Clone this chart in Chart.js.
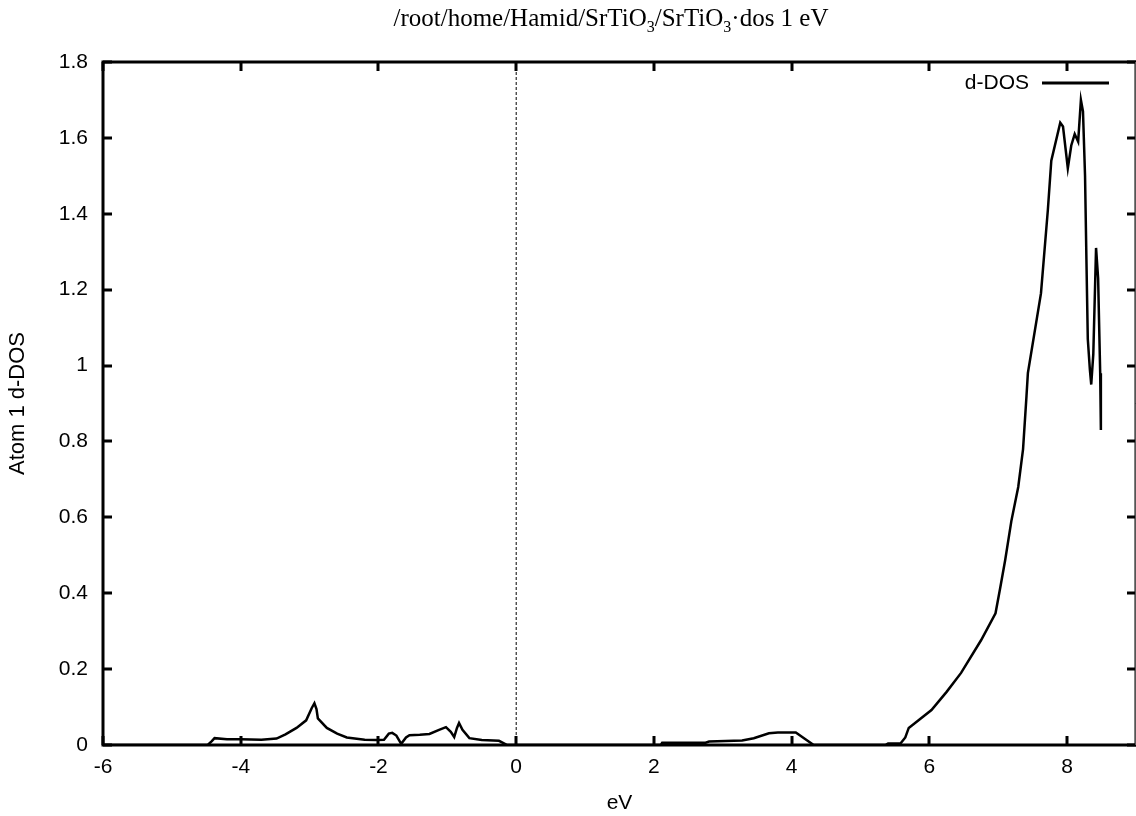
<!DOCTYPE html>
<html>
<head>
<meta charset="utf-8">
<script src="https://cdn.jsdelivr.net/npm/chart.js@4/dist/chart.umd.min.js"></script>
<style>
  html, body { margin:0; padding:0; background:#fff; }
  #wrap { position:relative; width:1136px; height:816px; overflow:hidden; }
  #title { position:absolute; left:0; top:4px; width:1222px; text-align:center;
           font-family:"Liberation Serif","DejaVu Serif",serif; font-size:25px; color:#000; }
  #title sub { font-size:16px; vertical-align:-6px; line-height:0; }
</style>
</head>
<body>
<div id="wrap">
  <div id="title">/root/home/Hamid/SrTiO<sub>3</sub>/SrTiO<sub>3</sub>·dos 1 eV</div>
  <canvas id="c" width="1136" height="816"></canvas>
</div>
<script>
(function(){
  // energies (eV) and d-DOS values
  const energy = [
    -6, -4.48, -4.42, -4.38, -4.2, -4.0, -3.7, -3.48, -3.35, -3.19, -3.05, -2.97, -2.93, -2.9, -2.88,
    -2.75, -2.6, -2.46, -2.2, -2.03, -1.92, -1.85, -1.8, -1.74, -1.67, -1.6, -1.55, -1.4, -1.26,
    -1.12, -1.02, -0.95, -0.9, -0.86, -0.83, -0.78, -0.68, -0.5, -0.25, -0.13,
    2.1, 2.12, 2.75, 2.8, 3.28, 3.45, 3.67, 3.8, 4.06, 4.2, 4.32,
    5.36, 5.4, 5.58, 5.65, 5.7, 6.03, 6.25, 6.46, 6.75, 6.96, 7.03, 7.1, 7.19, 7.29, 7.36, 7.41,
    7.43, 7.62, 7.72, 7.77, 7.9, 7.94, 8.01, 8.06, 8.11, 8.16, 8.2, 8.23, 8.26, 8.28, 8.3, 8.33,
    8.35, 8.38, 8.41, 8.42, 8.45, 8.48, 8.49
  ];
  const dos = [
    0, 0, 0.01, 0.018, 0.015, 0.015, 0.014, 0.017, 0.028, 0.045, 0.065, 0.097, 0.11, 0.095, 0.07,
    0.045, 0.03, 0.02, 0.014, 0.013, 0.014, 0.03, 0.032, 0.025, 0.003, 0.02, 0.026, 0.027, 0.029,
    0.04, 0.047, 0.035, 0.021, 0.045, 0.058, 0.04, 0.018, 0.013, 0.011, 0,
    0, 0.006, 0.006, 0.009, 0.012, 0.018, 0.031, 0.033, 0.033, 0.015, 0,
    0, 0.004, 0.004, 0.02, 0.045, 0.092, 0.14, 0.19, 0.276, 0.347, 0.416, 0.487, 0.59, 0.68, 0.78, 0.92,
    0.98, 1.19, 1.41, 1.54, 1.64, 1.63, 1.52, 1.58, 1.61, 1.59, 1.70, 1.67, 1.50, 1.28, 1.07, 0.99,
    0.95, 1.03, 1.24, 1.31, 1.23, 0.98, 0.83
  ];
  const fermiX = [0, 0];
  const fermiY = [0, 1.8];

  const xMin = -6, xMax = 9, xStep = 2;
  const yMin = 0, yMax = 1.8, yStep = 0.2;

  const font = { family: '"Liberation Sans", Arial, sans-serif', size: 21 };

  // gnuplot-like frame, inward ticks on all four sides, and key
  const gnuFrame = {
    id: 'gnuFrame',
    afterDraw(chart){
      const ctx = chart.ctx, a = chart.chartArea;
      const xs = chart.scales.x, ys = chart.scales.y;
      const tl = 9;
      ctx.save();
      ctx.strokeStyle = '#000';
      ctx.lineWidth = 3;
      ctx.beginPath();
      xs.ticks.forEach(t=>{
        const px = Math.round(xs.getPixelForValue(t.value));
        ctx.moveTo(px, a.bottom); ctx.lineTo(px, a.bottom - tl);
        ctx.moveTo(px, a.top); ctx.lineTo(px, a.top + tl);
      });
      ys.ticks.forEach(t=>{
        const py = Math.round(ys.getPixelForValue(t.value));
        ctx.moveTo(a.left, py); ctx.lineTo(a.left + tl, py);
        ctx.moveTo(a.right, py); ctx.lineTo(a.right - tl, py);
      });
      ctx.stroke();
      ctx.lineWidth = 3;
      ctx.strokeRect(a.left, a.top, a.right - a.left, a.bottom - a.top);
      // the picture is cut just before the right frame: a thin edge remains
      ctx.lineWidth = 1;
      ctx.strokeStyle = '#555';
      ctx.beginPath();
      ctx.moveTo(chart.width - 0.5, a.top); ctx.lineTo(chart.width - 0.5, a.bottom);
      ctx.stroke();

      // key
      const ds = chart.data.datasets[0];
      const ky = a.top + 21;
      ctx.font = font.size + 'px ' + font.family;
      ctx.fillStyle = '#000';
      ctx.textAlign = 'right';
      ctx.textBaseline = 'middle';
      ctx.fillText(ds.label, a.right - 107, ky);
      ctx.lineWidth = 3;
      ctx.strokeStyle = ds.borderColor;
      ctx.beginPath();
      ctx.moveTo(a.right - 94, ky); ctx.lineTo(a.right - 27, ky);
      ctx.stroke();
      ctx.restore();
    }
  };

  new Chart(document.getElementById('c'), {
    type: 'line',
    data: {
      datasets: [
        { label: 'd-DOS', data: energy.map((e,i)=>({x:e, y:dos[i]})),
          borderColor: '#000', borderWidth: 2.5, pointRadius: 0, tension: 0, fill: false },
        { label: 'EF', data: fermiX.map((e,i)=>({x:e, y:fermiY[i]})),
          borderColor: '#000', borderWidth: 1, borderDash: [3, 2], pointRadius: 0 }
      ]
    },
    options: {
      responsive: false,
      animation: false,
      layout: { padding: { top: 62, right: -2, left: 0, bottom: 0 } },
      plugins: { legend: { display: false }, tooltip: { enabled: false } },
      scales: {
        x: {
          type: 'linear', min: xMin, max: xMax,
          grid: { display: false, drawTicks: false },
          border: { display: false },
          ticks: { stepSize: xStep, includeBounds: false, color: '#000', font, padding: 10, maxRotation: 0 },
          title: { display: true, text: 'eV', color: '#000', font, padding: { top: 6, bottom: 0 } },
          afterFit(s){ s.height = 71; }
        },
        y: {
          type: 'linear', min: yMin, max: yMax,
          grid: { display: false, drawTicks: false },
          border: { display: false },
          ticks: { stepSize: yStep, color: '#000', font, padding: 15,
                   callback: v => +v.toFixed(1) + '' },
          title: { display: true, text: 'Atom 1 d-DOS', color: '#000',
                   font: { family: font.family, size: 22 }, padding: { top: 5, bottom: 0 } },
          afterFit(s){ s.width = 103; }
        }
      }
    },
    plugins: [gnuFrame]
  });
})();
</script>
</body>
</html>
